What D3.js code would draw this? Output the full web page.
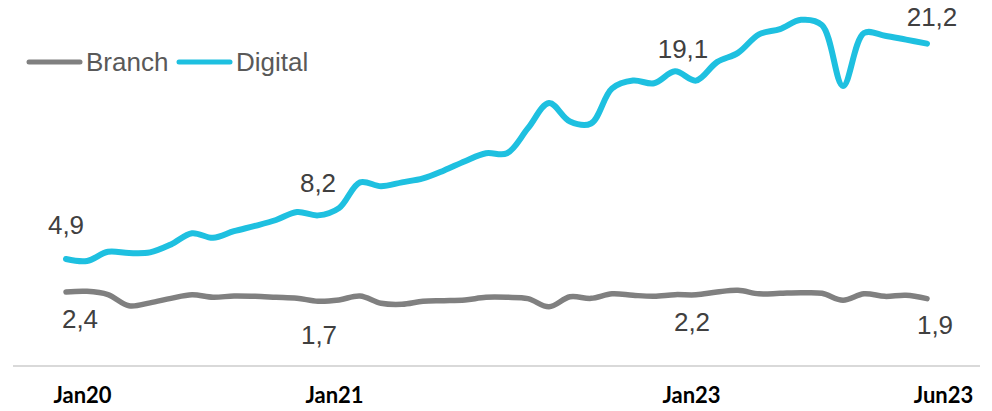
<!DOCTYPE html>
<html>
<head>
<meta charset="utf-8">
<script src="https://cdn.jsdelivr.net/npm/d3@7"></script>
<style>
  html, body { margin: 0; padding: 0; background: #fff; }
  svg { display: block; }
</style>
</head>
<body>
<div id="chart"></div>
<script>
// Monthly categories, Jan 2020 – Jun 2023
const months = [
  "Jan20","Feb20","Mar20","Apr20","May20","Jun20","Jul20","Aug20","Sep20","Oct20","Nov20","Dec20",
  "Jan21","Feb21","Mar21","Apr21","May21","Jun21","Jul21","Aug21","Sep21","Oct21","Nov21","Dec21",
  "Jan22","Feb22","Mar22","Apr22","May22","Jun22","Jul22","Aug22","Sep22","Oct22","Nov22","Dec22",
  "Jan23","Feb23","Mar23","Apr23","May23","Jun23"
];

const branch = [
  2.4, 2.45, 2.2, 1.36, 1.58, 1.92, 2.19, 2.0, 2.1, 2.07, 2.0, 1.93,
  1.7, 1.8, 2.1, 1.55, 1.47, 1.7, 1.74, 1.8, 2.0, 2.0, 1.9, 1.28,
  2.04, 1.92, 2.26, 2.15, 2.08, 2.2, 2.19, 2.4, 2.53, 2.26, 2.3, 2.34,
  2.3, 1.77, 2.26, 2.07, 2.15, 1.9
];

const digital = [
  4.9, 4.75, 5.45, 5.35, 5.4, 6.0, 6.85, 6.5, 7.0, 7.4, 7.85, 8.45,
  8.2, 8.75, 10.7, 10.4, 10.7, 11.0, 11.6, 12.3, 12.9, 12.9, 14.8, 16.7,
  15.3, 15.15, 17.8, 18.4, 18.2, 19.1, 18.4, 19.8, 20.5, 21.9, 22.3, 23.0,
  22.6, 18.0, 22.0, 21.8, 21.5, 21.2
];

// Axis tick labels and the month each one sits on
const tickLabels = ["Jan20", "Jan21", "Jan23", "Jun23"];
const tickMonths = ["Jan20", "Jan21", "Jun22", "Jun23"];

// Months whose values are printed on the chart
const labelledMonths = ["Jan20", "Jan21", "Jun22", "Jun23"];

const seriesNames = ["Branch", "Digital"];
const seriesColors = { Branch: "#808080", Digital: "#1ec0e0" };

const W = 992, H = 411;
const plot = { left: 66, right: 927, top: 0, bottom: 366 };

const svg = d3.select("#chart").append("svg")
  .attr("width", W).attr("height", H);

const x = d3.scalePoint().domain(months).range([plot.left, plot.right]);
const y = d3.scaleLinear().domain([-3.2, 24.5]).range([plot.bottom, plot.top]);

// baseline
svg.append("line")
  .attr("x1", 13).attr("x2", 980)
  .attr("y1", plot.bottom).attr("y2", plot.bottom)
  .attr("stroke", "#d9d9d9").attr("stroke-width", 2);

// x axis labels
const xAxis = d3.axisBottom(x)
  .tickValues(tickMonths)
  .tickSize(0)
  .tickPadding(0)
  .tickFormat(d => tickLabels[tickMonths.indexOf(d)]);

const gx = svg.append("g")
  .attr("transform", `translate(0,${plot.bottom})`)
  .call(xAxis);
gx.select(".domain").remove();
gx.selectAll("text")
  .attr("dy", null)
  .attr("y", 37)
  .attr("dx", 16)
  .attr("font-family", "Lato, 'Open Sans', sans-serif")
  .attr("font-weight", "bold")
  .attr("font-size", 22)
  .attr("fill", "#000");

// series lines
const line = d3.line()
  .x((d, i) => x(months[i]))
  .y(d => y(d))
  .curve(d3.curveCatmullRom.alpha(0.5));

const data = { Branch: branch, Digital: digital };

seriesNames.forEach(name => {
  svg.append("path")
    .datum(data[name])
    .attr("d", line)
    .attr("fill", "none")
    .attr("stroke", seriesColors[name])
    .attr("stroke-width", name === "Digital" ? 6 : 5.5)
    .attr("stroke-linecap", "round")
    .attr("stroke-linejoin", "round");
});

// value labels: Digital above the line, Branch below
const fmt = v => d3.format(".1f")(v).replace(".", ",");
const nudge = {
  Digital: [[0, -25], [0, -23], [8, -13], [5, -18]],
  Branch:  [[14, 36], [1, 43], [17, 36], [8, 35]]
};

seriesNames.forEach(name => {
  svg.append("g").selectAll("text")
    .data(labelledMonths)
    .join("text")
    .attr("x", (m, i) => x(m) + nudge[name][i][0])
    .attr("y", (m, i) => y(data[name][months.indexOf(m)]) + nudge[name][i][1])
    .attr("text-anchor", "middle")
    .attr("font-family", "'Liberation Sans', Arial, sans-serif")
    .attr("font-size", 26)
    .attr("fill", "#404040")
    .text(m => fmt(data[name][months.indexOf(m)]));
});

// legend
const legend = svg.append("g");
const legendItems = [
  { name: "Branch", x: 27 },
  { name: "Digital", x: 177 }
];
legendItems.forEach(item => {
  legend.append("line")
    .attr("x1", item.x + 2).attr("x2", item.x + 53)
    .attr("y1", 62).attr("y2", 62)
    .attr("stroke", seriesColors[item.name])
    .attr("stroke-width", 5)
    .attr("stroke-linecap", "round");
  legend.append("text")
    .attr("x", item.x + 59)
    .attr("y", 71)
    .attr("font-family", "'Liberation Sans', Arial, sans-serif")
    .attr("font-size", 26)
    .attr("fill", "#595959")
    .text(item.name);
});
</script>
</body>
</html>
